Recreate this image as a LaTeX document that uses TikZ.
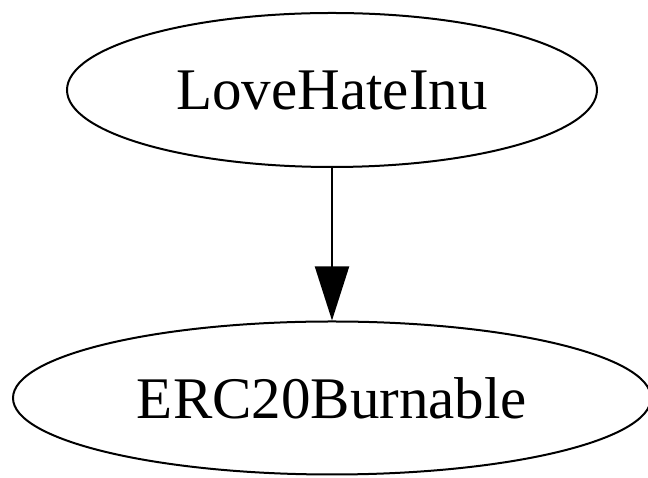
\documentclass[tikz,border=0pt]{standalone}
\usepackage{fontspec}
\setmainfont{Liberation Serif}
\usetikzlibrary{shapes.geometric,arrows.meta}
\begin{document}
\begin{tikzpicture}[x=1pt,y=1pt,
  nodebox/.style={draw,ellipse,line width=2pt,minimum width=#1,font=\fontsize{59}{61}\selectfont,inner sep=0pt},
  edge/.style={line width=2pt,-{Triangle[length=54pt,width=34pt]}}]
\useasboundingbox (0,0) rectangle (648,478);
\node[nodebox=530pt,minimum height=154pt] (a) at (332,388) {LoveHateInu};
\node[nodebox=638pt,minimum height=153pt] (b) at (332,80) {ERC20Burnable};
\draw[edge] (a.south) -- (b.north);
\end{tikzpicture}
\end{document}
